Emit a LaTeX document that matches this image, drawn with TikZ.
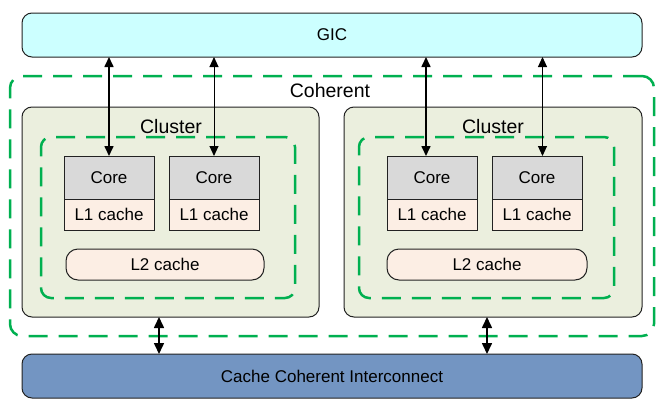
\documentclass[tikz,border=0pt]{standalone}
\usepackage{fontspec}
\setmainfont{Liberation Sans}
\usetikzlibrary{arrows.meta}
\definecolor{gicfill}{HTML}{CCFFFF}
\definecolor{clfill}{HTML}{EBEFDE}
\definecolor{corefill}{HTML}{D9D9D9}
\definecolor{cachefill}{HTML}{FCEEE4}
\definecolor{icfill}{HTML}{7395C2}
\definecolor{grn}{HTML}{00B050}
\definecolor{edge}{HTML}{222222}
\begin{document}
\begin{tikzpicture}[x=1pt,y=-1pt,
  box/.style={draw=edge,line width=1pt,anchor=north west,inner sep=0pt,outer sep=0pt},
  bigbar/.style={box,rounded corners=10pt,minimum width=620pt,minimum height=44pt,font=\fontsize{17}{20}\selectfont},
  clbox/.style={box,fill=clfill,rounded corners=10pt,minimum height=210pt},
  dbox/.style={draw=grn,line width=2.5pt,dash pattern=on 19pt off 11pt,anchor=north west,inner sep=0pt,outer sep=0pt},
  corebox/.style={box,fill=corefill,minimum width=90pt,minimum height=43pt,font=\fontsize{17}{20}\selectfont},
  l1box/.style={box,fill=cachefill,minimum width=90pt,minimum height=31pt,font=\fontsize{17}{20}\selectfont},
  l2box/.style={box,fill=cachefill,rounded corners=12pt,minimum height=31pt,font=\fontsize{17}{20}\selectfont},
  biglabel/.style={font=\fontsize{19.5}{22}\selectfont,inner sep=0pt},
  arr/.style={{Triangle[length=10pt,width=9pt]}-{Triangle[length=10pt,width=9pt]},line width=1pt},
  arrthick/.style={arr,line width=1.6pt},
  arrshort/.style={{Triangle[length=11pt,width=10pt]}-{Triangle[length=11pt,width=10pt]},line width=1.6pt}
]
\useasboundingbox (0,0) rectangle (665,410);

\node[bigbar,fill=gicfill] (gic) at (22,13) {GIC};

\node[dbox,rounded corners=12pt,minimum width=644pt,minimum height=260pt] (coh) at (10,76) {};
\node[biglabel] (cohlabel) at (330,91) {Coherent};

% left cluster
\node[clbox,minimum width=297pt] (clL) at (22,107) {};
\node[biglabel] (clLlabel) at (171,127) {Cluster};
\node[dbox,rounded corners=10pt,minimum width=254pt,minimum height=161pt] (inL) at (41,137) {};
\node[corebox] (c1) at (64,156) {Core};
\node[l1box] (l1a) at (64,199) {L1 cache};
\node[corebox] (c2) at (169,156) {Core};
\node[l1box] (l1b) at (169,199) {L1 cache};
\node[l2box,minimum width=198pt] (l2L) at (66,249) {L2 cache};

% right cluster
\node[clbox,minimum width=298pt] (clR) at (344,107) {};
\node[biglabel] (clRlabel) at (493,127) {Cluster};
\node[dbox,rounded corners=10pt,minimum width=255pt,minimum height=161pt] (inR) at (359,137) {};
\node[corebox] (c3) at (387,156) {Core};
\node[l1box] (l1c) at (387,199) {L1 cache};
\node[corebox] (c4) at (492,156) {Core};
\node[l1box] (l1d) at (492,199) {L1 cache};
\node[l2box,minimum width=200pt] (l2R) at (387,249) {L2 cache};

\node[bigbar,fill=icfill] (ic) at (22,354) {Cache Coherent Interconnect};

% arrows GIC <-> cores
\draw[arrthick] (gic.south -| c1.north) -- (c1.north);
\draw[arr] (gic.south -| c2.north) -- (c2.north);
\coordinate (a3) at ([xshift=-6pt]c3.north);
\coordinate (a4) at ([xshift=5.5pt]c4.north);
\draw[arrthick] (gic.south -| a3) -- (a3);
\draw[arr] (gic.south -| a4) -- (a4);

% arrows clusters <-> interconnect
\coordinate (bl) at (159,0);
\coordinate (br) at (487,0);
\draw[arrshort] (bl |- clL.south) -- (bl |- ic.north);
\draw[arrshort] (br |- clR.south) -- (br |- ic.north);
\end{tikzpicture}
\end{document}
